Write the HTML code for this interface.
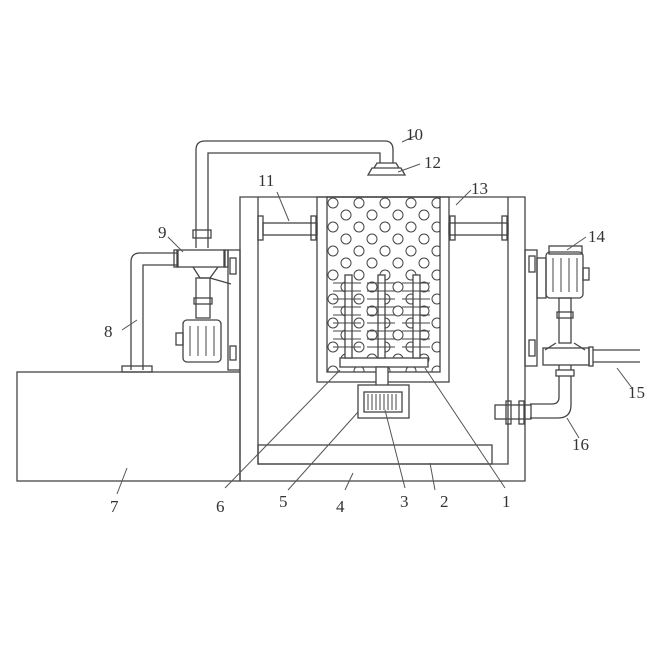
<!DOCTYPE html>
<html><head><meta charset="utf-8"><style>
html,body{margin:0;padding:0;background:#fff}
svg{display:block}
text{font-family:"Liberation Serif",serif;font-size:17px;fill:#333}
</style></head><body>
<svg width="663" height="645" viewBox="0 0 663 645" xmlns="http://www.w3.org/2000/svg">
<defs>
<pattern id="holes" x="327" y="197" width="26" height="24" patternUnits="userSpaceOnUse">
<circle cx="6" cy="6" r="5" fill="none" stroke="#444" stroke-width="1"/>
<circle cx="19" cy="18" r="5" fill="none" stroke="#444" stroke-width="1"/>
</pattern>
</defs>
<g fill="none" stroke="#444" stroke-width="1.3">
<rect x="17" y="372" width="223" height="109"/>
<path d="M240 197 H525 V481 H240 Z"/>
<path d="M258 197 V464 H508 V197"/>
<rect x="258" y="445" width="234" height="19"/>
<rect x="263" y="223" width="54" height="12"/>
<rect x="258" y="216" width="5" height="24"/>
<rect x="311" y="216" width="5" height="24"/>
<rect x="449" y="223" width="59" height="12"/>
<rect x="450" y="216" width="5" height="24"/>
<rect x="502" y="216" width="5" height="24"/>
<rect x="317" y="197" width="132" height="185"/>
<rect x="327" y="197" width="113" height="175" fill="url(#holes)"/>
<rect x="340" y="358" width="88" height="9" fill="#fff"/>
<rect x="376" y="367" width="12" height="20" fill="#fff"/>
<rect x="358" y="385" width="51" height="33" fill="#fff"/>
<rect x="364" y="392" width="38" height="20"/>
<path d="M368 394 V410 M372 394 V410 M376 394 V410 M380 394 V410 M384 394 V410 M388 394 V410 M392 394 V410 M396 394 V410" stroke-width="1"/>
<g fill="#fff">
<rect x="345" y="275" width="7" height="83"/>
<rect x="378" y="275" width="7" height="83"/>
<rect x="413" y="275" width="7" height="83"/>
</g>
<path stroke-width="1" d="M333 283h28M333 291h28M333 299h28M333 307h28M333 315h28M333 323h28M333 331h28M333 339h28M333 347h28
M367 283h28M367 291h28M367 299h28M367 307h28M367 315h28M367 323h28M367 331h28M367 339h28M367 347h28
M402 283h28M402 291h28M402 299h28M402 307h28M402 315h28M402 323h28M402 331h28M402 339h28M402 347h28"/>
<path d="M196 248 V150 Q196 141 205 141 H385 Q393 141 393 150 V163"/>
<path d="M208 248 V153 H380 V163"/>
<path d="M377 163 H396 L399 168 H374 Z M372 168 H401 L405 175 H368 Z"/>
<rect x="193" y="230" width="18" height="8"/>
<rect x="177" y="250" width="48" height="17"/>
<rect x="174" y="250" width="4" height="17"/>
<rect x="224" y="250" width="4" height="17"/>
<path d="M193 267 L200 278 H210 L218 267 M210 278 L231 284"/>
<rect x="196" y="278" width="14" height="40"/>
<rect x="194" y="298" width="18" height="6"/>
<rect x="228" y="250" width="12" height="120"/>
<rect x="230" y="258" width="6" height="16"/>
<rect x="230" y="346" width="6" height="14"/>
<rect x="183" y="320" width="38" height="42" rx="4"/>
<path d="M190 326 v30 M198 326 v30 M206 326 v30 M214 326 v30" stroke-width="1"/>
<rect x="176" y="333" width="7" height="12"/>
<path d="M131 370 V262 Q131 253 140 253 H177 M143 370 V265 H177"/>
<rect x="122" y="366" width="30" height="6"/>
<rect x="525" y="250" width="12" height="116"/>
<rect x="529" y="256" width="6" height="16"/>
<rect x="529" y="340" width="6" height="16"/>
<rect x="546" y="252" width="37" height="46" rx="4"/>
<rect x="549" y="246" width="33" height="8"/>
<path d="M553 258 v34 M561 258 v34 M569 258 v34 M577 258 v34" stroke-width="1"/>
<rect x="583" y="268" width="6" height="12"/>
<rect x="537" y="258" width="9" height="40"/>
<rect x="559" y="298" width="12" height="45"/>
<rect x="557" y="312" width="16" height="6"/>
<path d="M556 343 L545 350 M574 343 L585 350"/>
<rect x="543" y="348" width="46" height="17"/>
<rect x="589" y="347" width="4" height="19"/>
<path d="M593 350 H640 M593 362 H640"/>
<rect x="556" y="370" width="18" height="6"/>
<path d="M559 365 V370 M571 365 V370"/>
<path d="M559 376 V397 Q559 404 552 404 H530 M571 376 V405 Q571 418 558 418 H530"/>
<rect x="495" y="405" width="36" height="14"/>
<rect x="506" y="401" width="5" height="23"/>
<rect x="519" y="401" width="5" height="23"/>
</g>
<g stroke="#555" stroke-width="1" fill="none">
<path d="M402 142 L415 136"/>
<path d="M398 172 L420 164"/>
<path d="M277 192 L289 221"/>
<path d="M456 205 L471 190"/>
<path d="M567 250 L586 237"/>
<path d="M168 237 L183 252"/>
<path d="M122 330 L137 320"/>
<path d="M617 368 L632 388"/>
<path d="M567 418 L579 438"/>
<path d="M225 488 L340 370"/>
<path d="M288 490 L358 412"/>
<path d="M405 488 L385 410"/>
<path d="M505 488 L425 368"/>
<path d="M345 490 L353 473"/>
<path d="M435 490 L430 463"/>
<path d="M117 494 L127 468"/>
</g>
<text x="406" y="140">10</text>
<text x="424" y="168">12</text>
<text x="258" y="186">11</text>
<text x="471" y="194">13</text>
<text x="588" y="242">14</text>
<text x="158" y="238">9</text>
<text x="104" y="337">8</text>
<text x="628" y="398">15</text>
<text x="572" y="450">16</text>
<text x="110" y="512">7</text>
<text x="216" y="512">6</text>
<text x="279" y="507">5</text>
<text x="336" y="512">4</text>
<text x="400" y="507">3</text>
<text x="440" y="507">2</text>
<text x="502" y="507">1</text>
</svg>
</body></html>
